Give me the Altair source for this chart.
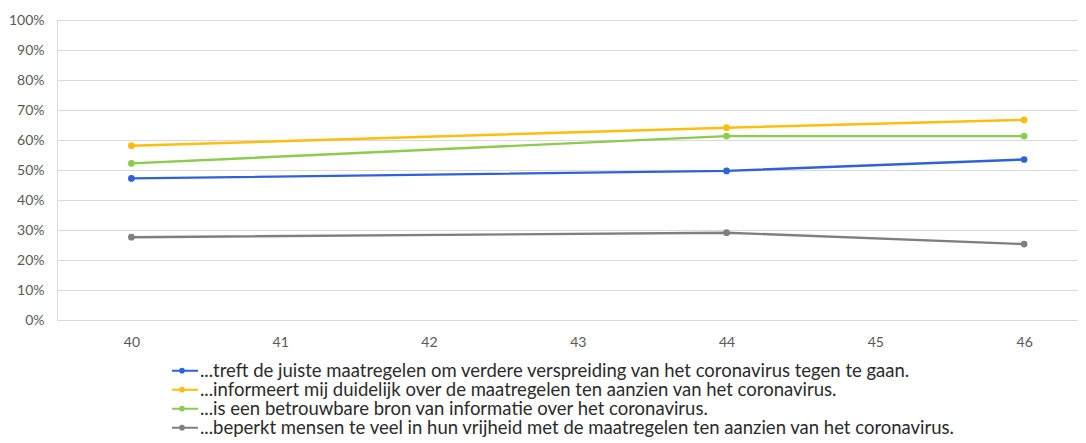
import altair as alt
import pandas as pd

weeks = [40, 44, 46]
series_names = [
    "...treft de juiste maatregelen om verdere verspreiding van het coronavirus tegen te gaan.",
    "...informeert mij duidelijk over de maatregelen ten aanzien van het coronavirus.",
    "...is een betrouwbare bron van informatie over het coronavirus.",
    "...beperkt mensen te veel in hun vrijheid met de maatregelen ten aanzien van het coronavirus.",
]
treft = [0.472, 0.497, 0.535]
informeert = [0.581, 0.641, 0.667]
betrouwbaar = [0.522, 0.613, 0.613]
beperkt = [0.276, 0.291, 0.253]
colors = ["#2F62D6", "#FFBE0B", "#8CCB4E", "#7F7F7F"]
x_ticks = [40, 41, 42, 43, 44, 45, 46]
y_ticks = [0, 0.1, 0.2, 0.3, 0.4, 0.5, 0.6, 0.7, 0.8, 0.9, 1.0]

rows = []
for name, vals in zip(series_names, [treft, informeert, betrouwbaar, beperkt]):
    for w, v in zip(weeks, vals):
        rows.append({"week": w, "value": v, "series": name})
df = pd.DataFrame(rows)

FONT = "Lato"
symbol_path = "M-1.78,0H1.78M-0.2,0A0.2,0.2 0 1,0 0.2,0A0.2,0.2 0 1,0 -0.2,0"

x = alt.X(
    "week:Q",
    scale=alt.Scale(domain=[39.5, 46.362], nice=False, zero=False),
    axis=alt.Axis(values=x_ticks, format="d", grid=False, domain=False, ticks=False,
                  labelPadding=15, labelFontSize=14, labelColor="#595959", labelFont=FONT,
                  title=None),
)
y = alt.Y(
    "value:Q",
    scale=alt.Scale(domain=[0, 1], nice=False),
    axis=alt.Axis(values=y_ticks, format=".0%", grid=True, gridColor="#D9D9D9", gridWidth=1,
                  domain=False, ticks=False, labelPadding=13, labelFontSize=14,
                  labelColor="#595959", labelFont=FONT, title=None),
)
color = alt.Color(
    "series:N",
    scale=alt.Scale(domain=series_names, range=colors),
    legend=alt.Legend(
        orient="none", legendX=115, legendY=341.5, direction="vertical", title=None,
        symbolType=symbol_path, symbolSize=324, symbolStrokeWidth=2,
        labelFontSize=18.5, labelFont=FONT, labelColor="#2B2B2B", labelLimit=2000,
        labelOffset=8, rowPadding=0, clipHeight=18.3,
    ),
)

lines = alt.Chart(df).mark_line(strokeWidth=2.4).encode(x=x, y=y, color=color)
points = alt.Chart(df).mark_point(filled=True, size=45, opacity=1).encode(
    x=x, y=y, color=alt.Color("series:N", scale=alt.Scale(domain=series_names, range=colors), legend=None)
)

chart = (lines + points).properties(
    width=1021, height=300,
    autosize=alt.AutoSizeParams(type="none"),
    padding={"left": 49, "top": 12, "right": 0, "bottom": 123},
).configure_view(stroke=None).configure(background="white")

chart.save("out.html", embed_options={"renderer": "svg", "actions": False})
